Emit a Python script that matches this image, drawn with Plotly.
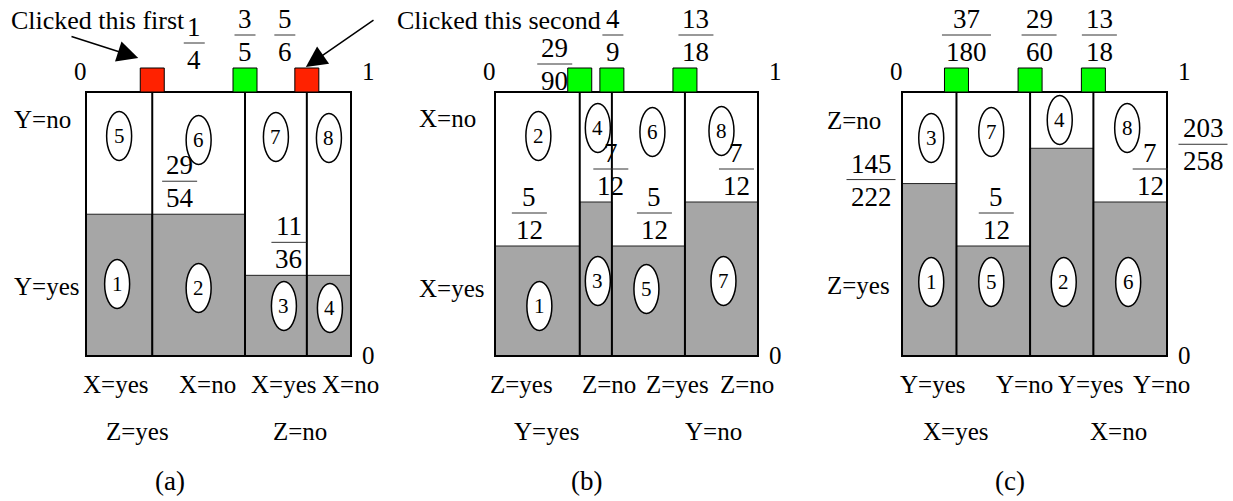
import plotly.graph_objects as go
from fractions import Fraction

# ---------------- data ----------------
# (a) columns are X x Z; the shaded lower cell of each column is Y=yes
a_cuts = ["1/4", "3/5", "5/6"]
a_clicked = [True, False, True]
a_shaded = ["29/54", "29/54", "11/36", "11/36"]
a_top_ids = [5, 6, 7, 8]
a_bottom_ids = [1, 2, 3, 4]
a_col_labels = ["X=yes", "X=no", "X=yes", "X=no"]
a_group_labels = ["Z=yes", "Z=no"]
a_row_labels = ["Y=no", "Y=yes"]

# (b) columns are Y x Z; the shaded lower cell is X=yes
b_cuts = ["29/90", "4/9", "13/18"]
b_clicked = [False, False, False]
b_shaded = ["5/12", "7/12", "5/12", "7/12"]
b_top_ids = [2, 4, 6, 8]
b_bottom_ids = [1, 3, 5, 7]
b_col_labels = ["Z=yes", "Z=no", "Z=yes", "Z=no"]
b_group_labels = ["Y=yes", "Y=no"]
b_row_labels = ["X=no", "X=yes"]

# (c) columns are X x Y; the shaded lower cell is Z=yes
c_cuts = ["37/180", "29/60", "13/18"]
c_clicked = [False, False, False]
c_shaded = ["145/222", "5/12", "203/258", "7/12"]
c_top_ids = [3, 7, 4, 8]
c_bottom_ids = [1, 5, 2, 6]
c_col_labels = ["Y=yes", "Y=no", "Y=yes", "Y=no"]
c_group_labels = ["X=yes", "X=no"]
c_row_labels = ["Z=no", "Z=yes"]

captions = ["(a)", "(b)", "(c)"]
callouts = ["Clicked this first", "Clicked this second"]

# ---------------- layout / style ----------------
FONT = "Liberation Serif"
GRAY = "#A6A6A6"
RED = "#FF2200"
GREEN = "#00FF00"
TXT = 25      # labels
FRAC = 27     # fraction digits
ELL = 21      # numbers inside the ovals

geom = {
    "a": dict(left=86, right=351, top=92, bottom=356,
              cut_lbl=[(42, 43), (0, 35), (-22, 35)],
              shade_lbl=[None, ("in", -19), ("in", 13), None],
              top_y=[136, 140, 137, 138], bot_y=[284, 288, 306, 308],
              top_dx=[0, 0, 0, 0], bot_dx=[-2, 0, 8, 1],
              row_x=12, row_y=[119, 286],
              col_x=[115, 207, 283, 350], grp_x=[137, 300], cap_x=170),
    "b": dict(left=495, right=758, top=92, bottom=356,
              cut_lbl=[(-25, 64), (1, 35), (11, 35)],
              shade_lbl=[("in", -8), ("in", 15), ("in", 6), ("in", 15)],
              top_y=[136, 128, 132, 131], bot_y=[306, 281, 289, 281],
              top_dx=[1, 2, 4, 0], bot_dx=[2, 2, -2, 2],
              row_x=417, row_y=[118, 288],
              col_x=[521, 609, 677, 747], grp_x=[546, 713], cap_x=586),
    "c": dict(left=902, right=1167, top=92, bottom=356,
              cut_lbl=[(10, 35), (9, 35), (6, 35)],
              shade_lbl=[("left", -31), ("in", 3), ("right", 36), ("in", 20)],
              top_y=[138, 132, 120, 128], bot_y=[282, 282, 282, 282],
              top_dx=[2, -2, -2, -3], bot_dx=[2, -2, 2, -2],
              row_x=825, row_y=[120, 285],
              col_x=[932, 1024, 1090, 1161], grp_x=[955, 1118], cap_x=1010),
}

shapes, annotations, traces = [], [], []


def text(x, y, s, size=TXT, xanchor="center"):
    annotations.append(dict(x=x, y=y, xref="x", yref="y", text=s, showarrow=False,
                            xanchor=xanchor, yanchor="middle",
                            font=dict(family=FONT, size=size, color="black")))


def fraction(s, cx, bar_y):
    num, den = s.split("/")
    w = 14 * max(len(num), len(den)) + 7
    shapes.append(dict(type="line", xref="x", yref="y", x0=cx - w / 2, x1=cx + w / 2,
                       y0=bar_y, y1=bar_y, line=dict(color="#333333", width=1), layer="above"))
    text(cx, bar_y - 16, num, FRAC)
    text(cx, bar_y + 17, den, FRAC)


def panel(key, cuts, clicked, shaded, top_ids, bot_ids, col_labels, group_labels,
          row_labels, caption):
    g = geom[key]
    L, R, T, B = g["left"], g["right"], g["top"], g["bottom"]
    W, H = R - L, B - T
    edges = [Fraction(0)] + [Fraction(c) for c in cuts] + [Fraction(1)]
    xs = [L + float(e) * W for e in edges]
    centers = [(xs[i] + xs[i + 1]) / 2 for i in range(4)]
    widths = [xs[i + 1] - xs[i] for i in range(4)]
    heights = [float(Fraction(h)) * H for h in shaded]
    tops = [B - h for h in heights]

    # shaded cells as bars on the pixel axes
    traces.append(go.Bar(x=centers, width=widths, base=[B] * 4, y=[-h for h in heights],
                         marker=dict(color=GRAY, line=dict(color="#222222", width=1)),
                         hoverinfo="skip", showlegend=False))

    # frame and column dividers
    shapes.append(dict(type="rect", xref="x", yref="y", x0=L, x1=R, y0=T, y1=B,
                       line=dict(color="black", width=2), layer="above"))
    for x in xs[1:-1]:
        shapes.append(dict(type="line", xref="x", yref="y", x0=x, x1=x, y0=T, y1=B,
                           line=dict(color="black", width=2), layer="above"))

    # slider squares on the cut points and their fraction labels
    for x, s, hit, (dx, by) in zip(xs[1:-1], cuts, clicked, g["cut_lbl"]):
        shapes.append(dict(type="rect", xref="x", yref="y", x0=x - 12, x1=x + 12,
                           y0=T - 24, y1=T, fillcolor=RED if hit else GREEN,
                           line=dict(color="black", width=1), layer="above"))
        fraction(s, x + dx, by)

    # conditional probability labels
    for i, spec in enumerate(g["shade_lbl"]):
        if spec is None:
            continue
        kind, dx = spec
        if kind == "in":
            fraction(shaded[i], centers[i] + dx, tops[i] - 33)
        elif kind == "left":
            fraction(shaded[i], L + dx, tops[i] - 4)
        else:
            fraction(shaded[i], R + dx, tops[i] - 4)

    # numbered ovals
    for ids, ys, dxs in ((top_ids, g["top_y"], g["top_dx"]), (bot_ids, g["bot_y"], g["bot_dx"])):
        for i, (n, y, dx) in enumerate(zip(ids, ys, dxs)):
            cx = centers[i] + dx
            shapes.append(dict(type="circle", xref="x", yref="y", x0=cx - 12.5, x1=cx + 12.5,
                               y0=y - 24.5, y1=y + 24.5, fillcolor="white",
                               line=dict(color="black", width=1.5), layer="above"))
            text(cx, y, str(n), ELL)

    # axis ends
    text(L - 6, 71, "0")
    text(R + 17, 71, "1")
    text(R + 17, B - 1, "0")

    # row, column and group labels
    text(g["row_x"], g["row_y"][0], row_labels[0], xanchor="left")
    text(g["row_x"], g["row_y"][1], row_labels[1], xanchor="left")
    for x, s in zip(g["col_x"], col_labels):
        text(x, 384, s)
    for x, s in zip(g["grp_x"], group_labels):
        text(x, 431, s)
    text(g["cap_x"], 481, caption, 27)
    return xs, T


a_xs, a_top = panel("a", a_cuts, a_clicked, a_shaded, a_top_ids, a_bottom_ids,
                    a_col_labels, a_group_labels, a_row_labels, captions[0])
panel("b", b_cuts, b_clicked, b_shaded, b_top_ids, b_bottom_ids,
      b_col_labels, b_group_labels, b_row_labels, captions[1])
panel("c", c_cuts, c_clicked, c_shaded, c_top_ids, c_bottom_ids,
      c_col_labels, c_group_labels, c_row_labels, captions[2])

# call-outs pointing at the two clicked squares
text(9, 20, callouts[0], size=26, xanchor="left")
text(395, 20, callouts[1], size=26, xanchor="left")
arrow = dict(xref="x", yref="y", axref="x", ayref="y", text="", showarrow=True,
             arrowhead=2, arrowsize=2.8, arrowwidth=1.5, arrowcolor="black", standoff=0)
annotations.append(dict(arrow, x=a_xs[1] - 14, y=a_top - 34, ax=70, ay=36))
annotations.append(dict(arrow, x=a_xs[3] - 1, y=a_top - 25, ax=375, ay=19))

fig = go.Figure(traces)
fig.update_layout(
    width=1233, height=501, margin=dict(l=0, r=0, t=0, b=0),
    paper_bgcolor="white", plot_bgcolor="white", barmode="overlay",
    xaxis=dict(range=[0, 1233], visible=False, fixedrange=True),
    yaxis=dict(range=[501, 0], visible=False, fixedrange=True),
    shapes=shapes, annotations=annotations, showlegend=False,
)
fig.write_html("out.html")
